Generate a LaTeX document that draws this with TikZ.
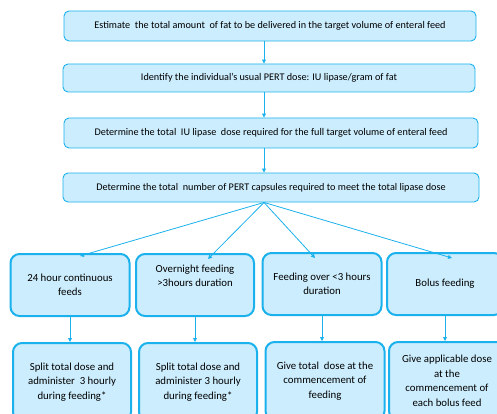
\documentclass[tikz,border=0pt]{standalone}
\usepackage{fontspec}
\setmainfont{Carlito}
\usetikzlibrary{arrows.meta}
\definecolor{boxfill}{HTML}{CCEDFD}
\definecolor{boxline}{HTML}{1BB1EC}
\tikzstyle{stepbox}=[rectangle, draw=boxline, fill=boxfill, rounded corners=5pt,
                     line width=0.9pt, inner sep=2pt, font=\fontsize{10.2}{12}\selectfont]
\tikzstyle{casebox}=[rectangle, draw=boxline, fill=boxfill, rounded corners=9pt,
                     line width=2pt, align=center, inner sep=2pt,
                     font=\fontsize{10.8}{14.5}\selectfont]
\tikzstyle{flow}=[-{Triangle[length=4pt,width=4pt]}, draw=boxline, line width=0.8pt]

\begin{document}
\begin{tikzpicture}[x=1pt,y=-1pt]
      \useasboundingbox (0,0) rectangle (497,414);
      \coordinate (spine) at (264,0);
      % main steps
      \node[stepbox, minimum width=412pt, minimum height=30pt] (fat) at (270,26)
	{Estimate\ \ the total amount\ \ of fat to be delivered in the target volume of enteral feed};
      \node[stepbox, minimum width=412pt, minimum height=28pt] (dose) at (269,78)
	{Identify the individual’s usual PERT dose: IU lipase/gram of fat};
      \node[stepbox, minimum width=414pt, minimum height=30pt] (lipase) at (271,133)
	{Determine the total\ \ IU lipase\ \ dose required for the full target volume of enteral feed};
      \node[stepbox, minimum width=416pt, minimum height=29pt] (caps) at (271,187.5)
	{Determine the total\ \ number of PERT capsules required to meet the total lipase dose};
      % feeding types
      \node[casebox, minimum width=119pt, minimum height=62pt] (cont) at (70,285)
	{24 hour continuous\\feeds};
      \node[casebox, minimum width=118pt, minimum height=62pt] (night) at (195,285)
	{Overnight feeding\\>3hours duration\\[4pt]};
      \node[casebox, minimum width=119pt, minimum height=62pt] (short) at (322,284)
	{Feeding over <3 hours\\duration};
      \node[casebox, minimum width=116pt, minimum height=62pt] (bolus) at (445,284)
	{Bolus feeding};
      % dosing advice
      \node[casebox, minimum width=118pt, minimum height=78pt] (splitA) at (72,382)
	{Split total dose and\\administer\ \ 3 hourly\\during feeding*};
      \node[casebox, minimum width=118pt, minimum height=78pt] (splitB) at (198,382)
	{Split total dose and\\administer 3 hourly\\during feeding*};
      \node[casebox, minimum width=119pt, minimum height=78pt] (start) at (325,381)
	{Give total\ \ dose at the\\commencement of\\feeding};
      \node[casebox, minimum width=116pt, minimum height=78pt] (each) at (447,381)
	{Give applicable dose\\at the\\commencement of\\each bolus feed};
	\draw[flow] (fat.south -| spine)--(dose.north -| spine);
	\draw[flow] (dose.south -| spine)--(lipase.north -| spine);
	\draw[flow] (lipase.south -| spine)--(caps.north -| spine);
	\draw[flow] (caps.south -| spine)--([xshift=10pt,yshift=-3pt]cont.north);
	\draw[flow] (caps.south -| spine)--([xshift=13pt,yshift=-6pt]night.north);
	\draw[flow] (caps.south -| spine)--([xshift=-7pt,yshift=-6pt]short.north);
	\draw[flow] (caps.south -| spine)--([xshift=7pt,yshift=-6pt]bolus.north);
	\draw[flow] (cont.south)--(cont.south |- splitA.north);
	\draw[flow] (night.south)--(night.south |- splitB.north);
	\draw[flow] (short.south)--(short.south |- start.north);
	\draw[flow] (bolus.south)--(bolus.south |- each.north);
\end{tikzpicture}
\end{document}
